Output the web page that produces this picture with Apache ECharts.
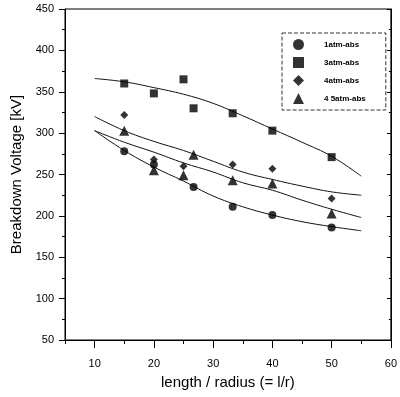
<!DOCTYPE html>
<html>
<head>
<meta charset="utf-8">
<script src="https://cdn.jsdelivr.net/npm/echarts@6/dist/echarts.min.js"></script>
<style>
  html, body { margin: 0; padding: 0; background: #fff; }
  #main { width: 400px; height: 397px; }
</style>
</head>
<body>
<div id="main"></div>
<script>
// measured points (l/r, kV)
const x1atm = [15, 20, 26.7, 33.3, 40, 50]
const y1atm = [278, 262, 235, 211, 201, 186]
const x3atm = [15, 20, 25, 26.7, 33.3, 40, 50]
const y3atm = [360, 348, 365, 330, 324, 303, 271]
const x4atm = [15, 20, 25, 33.3, 40, 50]
const y4atm = [322, 268, 260, 262, 257, 221]
const x45atm = [15, 20, 25, 26.7, 33.3, 40, 50]
const y45atm = [303, 255, 249, 274, 243, 239, 203]

// fitted curves
const fitX = [10, 15, 20, 25, 30, 35, 40, 45, 50, 55]
const fitA = [366, 362, 355, 347, 336, 321, 305, 289, 272, 248]
const fitB = [320, 303, 290, 279, 266, 253, 244, 236, 229, 225]
const fitC = [303, 289, 277, 264, 253, 240, 231, 219, 208, 198]
const fitD = [303, 279, 259, 242, 224, 211, 201, 193, 187, 182]

const xLabels = [10, 20, 30, 40, 50, 60]
const names = ['1atm-abs', '3atm-abs', '4atm-abs', '4 5atm-abs']

const zip = (xs, ys) => xs.map((x, i) => [x, ys[i]])

var myChart = echarts.init(document.getElementById('main'))
const font = 'Liberation Sans, Arial, sans-serif'

let pts = [
  { name: names[0], sym: 'circle', size: 8, data: zip(x1atm, y1atm) },
  { name: names[1], sym: 'rect', size: 8, data: zip(x3atm, y3atm) },
  { name: names[2], sym: 'diamond', size: 8, data: zip(x4atm, y4atm) },
  { name: names[3], sym: 'triangle', size: 10, data: zip(x45atm, y45atm) },
]
let fits = [fitA, fitB, fitC, fitD]

let series = pts.map((p) => ({
  name: p.name,
  type: 'scatter',
  symbol: p.sym,
  symbolSize: p.size,
  itemStyle: { color: '#000' },
  data: p.data,
  z: 5,
}))
fits.forEach((f) => {
  series.push({
    type: 'line',
    smooth: 0.4,
    showSymbol: false,
    symbol: 'none',
    lineStyle: { color: '#111', width: 1 },
    data: zip(fitX, f),
    silent: true,
  })
})

let option = {
  animation: false,
  backgroundColor: '#fff',
  grid: {
    left: 65, right: 7, top: 9, bottom: 57,
    show: true, borderColor: '#000', borderWidth: 1,
  },
  legend: {
    data: names.map((n, i) => ({ name: n, icon: pts[i].sym })),
    orient: 'vertical',
    left: 282, top: 33,
    itemWidth: 11, itemHeight: 11,
    itemGap: 7,
    padding: [6, 20, 6, 11],
    borderColor: '#333', borderWidth: 1, borderType: 'dashed',
    textStyle: { fontSize: 8, fontWeight: 'bold', fontFamily: font, color: '#000', padding: [0, 0, 0, 15] },
    itemStyle: { color: '#000' },
  },
  xAxis: [
    {
      type: 'value', min: 5, max: 60,
      name: 'length / radius (= l/r)',
      nameLocation: 'middle', nameGap: 35,
      nameTextStyle: { fontSize: 15, fontFamily: font, color: '#000' },
      axisLine: { lineStyle: { color: '#000' } },
      axisTick: { customValues: xLabels, length: 8, lineStyle: { color: '#000' } },
      axisLabel: { customValues: xLabels, fontSize: 11, fontFamily: font, color: '#000', margin: 18 },
      splitLine: { show: false },
    },
    {
      type: 'value', min: 5, max: 60, interval: 5, position: 'bottom',
      axisLine: { show: false },
      axisTick: { length: 4, lineStyle: { color: '#000' } },
      axisLabel: { show: false },
      splitLine: { show: false },
    },
  ],
  yAxis: [
    {
      type: 'value', min: 50, max: 450, interval: 50,
      name: 'Breakdown Voltage [kV]',
      nameLocation: 'middle', nameGap: 40,
      nameTextStyle: { fontSize: 15, fontFamily: font, color: '#000' },
      axisLine: { show: true, lineStyle: { color: '#000' } },
      axisTick: { length: 6, lineStyle: { color: '#000' } },
      minorTick: { show: true, splitNumber: 2, length: 3, lineStyle: { color: '#000' } },
      axisLabel: { fontSize: 11, fontFamily: font, color: '#000', margin: 11 },
      splitLine: { show: false },
    },
    {
      type: 'value', min: 50, max: 450, interval: 50, position: 'right',
      axisLine: { show: true, lineStyle: { color: '#000' } },
      axisTick: { inside: true, length: 4, lineStyle: { color: '#000' } },
      minorTick: { show: true, splitNumber: 2, length: 2, lineStyle: { color: '#000' } },
      axisLabel: { show: false },
      splitLine: { show: false },
    },
  ],
  series: series,
}
myChart.setOption(option)
</script>
</body>
</html>
